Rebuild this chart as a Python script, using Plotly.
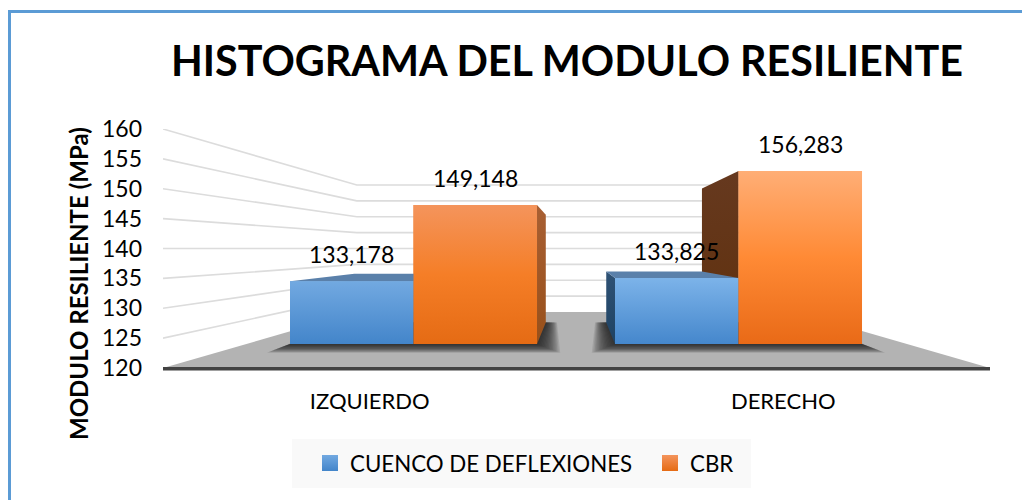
import plotly.graph_objects as go

categories = ["IZQUIERDO", "DERECHO"]
series_names = ["CUENCO DE DEFLEXIONES", "CBR"]
cuenco_values = [133.178, 133.825]
cbr_values = [149.148, 156.283]
y_ticks = [120, 125, 130, 135, 140, 145, 150, 155, 160]

FONT = "Lato"
Y_MIN, Y_MAX = 120, 160
Y_PAD = 2                  # room below the floor so that its front edge is not clipped
VP_X, VP_Y = 0.5, 140      # vanishing point of the 3D look, in data units
BACK_WALL = 0.5314         # depth ratio of the back wall
BAR_DEPTH = 0.775          # depth ratio of the back of a bar
BAR_W = 0.38
PX_X, PX_Y = 325.0, 4.77   # pixels per unit on the bar-plane axes

L, R, T, B = 163, 990, 129, 380
W, H = 1022, 500

front_grad = {
    (0, 0): ["#72A9E1", "#4385CA"], (0, 1): ["#7CB3E9", "#4587CC"],
    (1, 0): ["#F4945C", "#F57E27", "#E56B14"], (1, 1): ["#FFAE76", "#FF8A35", "#E96A17"],
}
side_grad = {0: ["#2F5275", "#1E4263"], 1: ["#66391F", "#60300C"]}
side_grad_left = {0: ["#2F5275", "#1E4263"], 1: ["#A85F33", "#98501A"]}
top_color = "#5A80AA"


def back(x, v, k):
    return VP_X + k * (x - VP_X), VP_Y + k * (v - VP_Y)


def scale(colors):
    n = len(colors) - 1
    return [[i / n, c] for i, c in enumerate(colors)]


def face(points, colors):
    xs = [p[0] for p in points] + [points[0][0]]
    ys = [p[1] for p in points] + [points[0][1]]
    grad = colors[::-1]
    return go.Scatter(
        x=xs, y=ys, xaxis="x2", yaxis="y2", mode="lines", line=dict(width=0),
        fill="toself", fillgradient=dict(type="vertical", colorscale=scale(grad)),
        hoverinfo="skip", showlegend=False,
    )


fig = go.Figure()

# back wall grid lines
for v in y_ticks[1:]:
    xb0, yb = back(-0.5, v, BACK_WALL)
    xb1, _ = back(1.5, v, BACK_WALL)
    fig.add_trace(go.Scatter(
        x=[-0.5, xb0, xb1], y=[v, yb, yb], mode="lines",
        line=dict(color="#DCDCDC", width=1.6), hoverinfo="skip", showlegend=False,
    ))

# floor
fx0, fy = back(-0.5, Y_MIN, BACK_WALL)
fx1, _ = back(1.5, Y_MIN, BACK_WALL)
fig.add_trace(go.Scatter(
    x=[-0.5, fx0, fx1, 1.5, -0.5], y=[Y_MIN, fy, fy, Y_MIN, Y_MIN], mode="lines",
    line=dict(width=0), fill="toself", fillcolor="#B3B3B3", hoverinfo="skip", showlegend=False,
))
fig.add_trace(go.Scatter(
    x=[-0.5, 1.5], y=[Y_MIN - 0.1, Y_MIN - 0.1], mode="lines",
    line=dict(color="#434343", width=3.5), hoverinfo="skip", showlegend=False,
))

# soft shadows on the floor below each bar group
for i in range(len(categories)):
    x0, x1 = i - BAR_W, i + BAR_W
    bx0, by = back(x0, Y_MIN, BAR_DEPTH)
    bx1, _ = back(x1, Y_MIN, BAR_DEPTH)
    for m in range(1, 17):
        dx_f, dx_b, dy = m * 1.45 / PX_X, m * 0.7 / PX_X, m * 0.55 / PX_Y
        fig.add_trace(go.Scatter(
            x=[x0 - dx_f, bx0 - dx_b, bx1 + dx_b, x1 + dx_f, x0 - dx_f],
            y=[Y_MIN - dy, by, by, Y_MIN - dy, Y_MIN - dy],
            xaxis="x2", yaxis="y2", mode="lines", line=dict(width=0), fill="toself",
            fillcolor="rgba(30,30,30,0.10)", hoverinfo="skip", showlegend=False,
        ))

# plain bars from the values, then the 3D faces over them
all_values = [cuenco_values, cbr_values]
bar_colors = ["#5B9BD5", "#ED7D31"]
for s, vals in enumerate(all_values):
    fig.add_trace(go.Bar(
        x=list(range(len(categories))), y=[v - Y_MIN for v in vals], base=Y_MIN,
        width=BAR_W, offset=-BAR_W if s == 0 else 0, xaxis="x2", yaxis="y2",
        marker=dict(color=bar_colors[s], line=dict(width=0)),
        name=series_names[s], showlegend=False, hoverinfo="skip",
    ))

sides, tops, fronts = [], [], []
for s, vals in enumerate(all_values):
    for i, v in enumerate(vals):
        x0 = i - BAR_W if s == 0 else i
        x1 = x0 + BAR_W
        if x1 < VP_X:
            sides.append(face([(x1, Y_MIN), (x1, v), back(x1, v, BAR_DEPTH), back(x1, Y_MIN, BAR_DEPTH)], side_grad_left[s]))
        if x0 > VP_X:
            sides.append(face([(x0, Y_MIN), (x0, v), back(x0, v, BAR_DEPTH), back(x0, Y_MIN, BAR_DEPTH)], side_grad[s]))
        if v < VP_Y:
            tops.append(face([(x0, v), (x1, v), back(x1, v, BAR_DEPTH), back(x0, v, BAR_DEPTH)], [top_color, top_color]))
        fronts.append(face([(x0, Y_MIN), (x0, v), (x1, v), (x1, Y_MIN)], front_grad[(s, i)]))
for tr in sides + tops + fronts:
    fig.add_trace(tr)

# legend entries
legend_grad = [("#4385CA", "#72A9E1"), ("#E56B14", "#F4945C")]
for s, name in enumerate(series_names):
    fig.add_trace(go.Scatter(
        x=[None], y=[None], mode="markers", name=name,
        marker=dict(symbol="square", size=16, color=legend_grad[s][1],
                    gradient=dict(type="vertical", color=legend_grad[s][0])),
    ))

annotations = []
for s, vals in enumerate(all_values):
    for i, v in enumerate(vals):
        cx = i - BAR_W / 2 if s == 0 else i + BAR_W / 2
        annotations.append(dict(
            x=cx, y=v, xref="x2", yref="y2", yshift=27, showarrow=False,
            text=f"{v:.3f}".replace(".", ","), font=dict(family=FONT, size=23, color="#000000"),
        ))
annotations.append(dict(
    x=78 / W, y=1 - 284 / H, xref="paper", yref="paper", showarrow=False, textangle=-90,
    xanchor="center", yanchor="middle",
    text="<b>MODULO RESILIENTE (MPa)</b>", font=dict(family=FONT, size=24, color="#000000"),
))

shapes = [
    dict(type="rect", xref="paper", yref="paper", x0=292 / W, x1=751 / W, y0=1 - 488 / H, y1=1 - 439 / H,
         fillcolor="#F9F9F9", line=dict(width=0), layer="below"),
    dict(type="line", xref="paper", yref="paper", x0=9.5 / W, x1=9.5 / W, y0=0, y1=1 - 10 / H,
         line=dict(color="#5B9BD5", width=3)),
    dict(type="line", xref="paper", yref="paper", x0=8 / W, x1=1, y0=1 - 11.5 / H, y1=1 - 11.5 / H,
         line=dict(color="#5B9BD5", width=3)),
]

fig.update_layout(
    width=W, height=H, margin=dict(l=0, r=0, t=0, b=0, autoexpand=False),
    paper_bgcolor="#FFFFFF", plot_bgcolor="rgba(0,0,0,0)", barmode="overlay",
    font=dict(family=FONT, color="#000000"),
    title=dict(text="<b>HISTOGRAMA DEL MODULO RESILIENTE</b>", x=567 / W, xanchor="center",
               y=1 - 62 / H, yanchor="middle", font=dict(family=FONT, size=41.3, color="#000000")),
    xaxis=dict(domain=[L / W, R / W], range=[-0.5, 1.5], tickvals=list(range(len(categories))),
               ticktext=categories, showgrid=False, zeroline=False, showline=False, ticks="",
               ticklabelstandoff=6, tickfont=dict(family=FONT, size=22, color="#000000")),
    yaxis=dict(domain=[1 - B / H, 1 - T / H], range=[Y_MIN - Y_PAD, Y_MAX], tickvals=y_ticks,
               showgrid=False, zeroline=False, showline=False, ticks="",
               ticklabelstandoff=20, tickfont=dict(family=FONT, size=23, color="#000000")),
    xaxis2=dict(overlaying="x", range=[-0.7708, 1.7738], visible=False),
    yaxis2=dict(overlaying="y", range=[112.45, 165.07], visible=False),
    legend=dict(orientation="h", x=(330 - 20) / W, y=1 - 463 / H, xanchor="left", yanchor="middle",
                bgcolor="rgba(0,0,0,0)", entrywidth=295, entrywidthmode="pixels", itemsizing="trace",
                font=dict(family=FONT, size=22.3, color="#000000")),
    annotations=annotations, shapes=shapes,
)

fig.write_html("out.html", config={"displayModeBar": False},
               post_script="document.body.style.margin='0';")
